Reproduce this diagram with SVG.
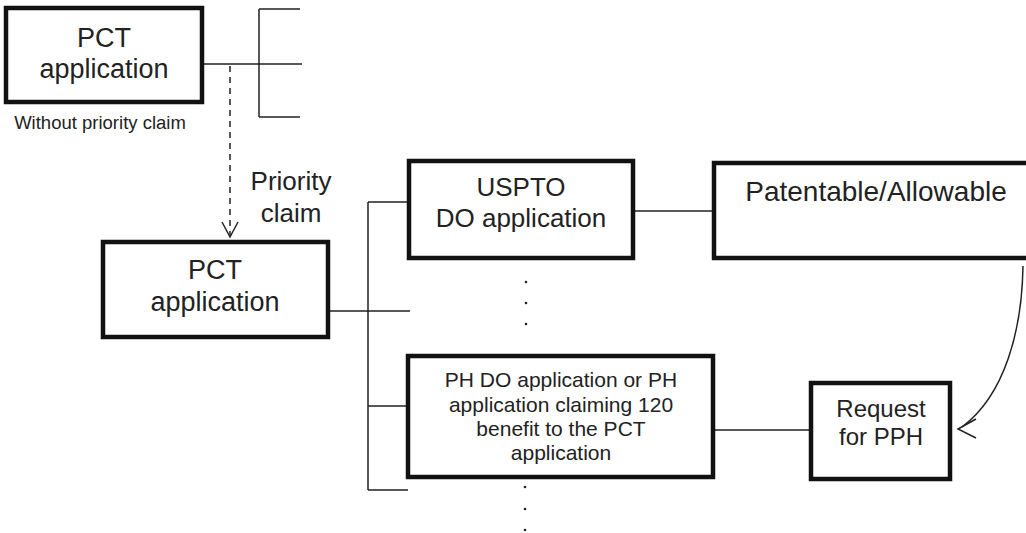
<svg xmlns="http://www.w3.org/2000/svg" width="1026" height="533" viewBox="0 0 1026 533">
<style>
.box{fill:#fff;stroke:#111;stroke-width:4.5}
.t{font-family:"Liberation Sans",Arial,sans-serif;fill:#222;text-anchor:middle}
.c{fill:none;stroke:#222;stroke-width:1.5}
</style>
<rect width="1026" height="533" fill="#fff"/>
<g id="connectors">
<path class="c" d="M202,64H302M259,9V117M259,9H300M259,117H300"/>
<path class="c" d="M230,66V236" stroke-dasharray="6,5"/>
<path class="c" d="M222,222L230,237L238,222"/>
<path class="c" d="M328,311H410M368,202V490M368,202H409M368,406H408M368,490H408"/>
<path class="c" d="M633,211H714"/>
<path class="c" d="M713,430H811"/>
<path class="c" d="M1023,266C1022,330 1005,395 962,427"/>
<path class="c" d="M976,419L958,429L976,438"/>
</g>
<g id="pct1">
<rect class="box" x="6" y="8" width="196" height="94"/>
<text class="t" font-size="27" x="104" y="47">PCT</text>
<text class="t" font-size="27" x="104" y="78">application</text>
</g>
<text class="t" font-size="18.5" x="100" y="129">Without priority claim</text>
<text class="t" font-size="26" x="291" y="190">Priority</text>
<text class="t" font-size="26" x="291" y="222">claim</text>
<g id="pct2">
<rect class="box" x="103" y="242" width="225" height="95"/>
<text class="t" font-size="27" x="215" y="279">PCT</text>
<text class="t" font-size="27" x="215" y="311">application</text>
</g>
<g id="uspto">
<rect class="box" x="409" y="161" width="224" height="97"/>
<text class="t" font-size="26" x="521" y="196">USPTO</text>
<text class="t" font-size="26" x="521" y="227">DO application</text>
</g>
<g id="patentable">
<rect class="box" x="714" y="163" width="330" height="95"/>
<text class="t" font-size="28" x="876" y="201">Patentable/Allowable</text>
</g>
<g id="dots1" fill="#222">
<circle cx="526" cy="282" r="1.3"/>
<circle cx="526" cy="303" r="1.3"/>
<circle cx="526" cy="324" r="1.3"/>
</g>
<g id="ph">
<rect class="box" x="408" y="356" width="305" height="121"/>
<text class="t" font-size="21" x="561" y="387">PH DO application or PH</text>
<text class="t" font-size="21" x="561" y="412">application claiming 120</text>
<text class="t" font-size="21" x="561" y="436">benefit to the PCT</text>
<text class="t" font-size="21" x="561" y="460">application</text>
</g>
<g id="dots2" fill="#222">
<circle cx="525" cy="487" r="1.3"/>
<circle cx="525" cy="509" r="1.3"/>
<circle cx="525" cy="530" r="1.3"/>
</g>
<g id="request">
<rect class="box" x="811" y="383" width="139" height="96"/>
<text class="t" font-size="24" x="881" y="417">Request</text>
<text class="t" font-size="24" x="881" y="445">for PPH</text>
</g>
</svg>
